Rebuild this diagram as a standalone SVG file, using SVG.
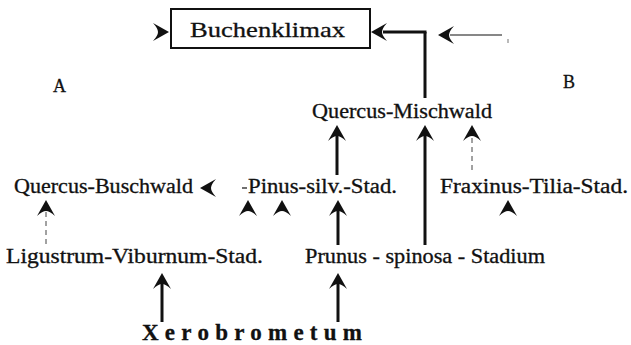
<svg xmlns="http://www.w3.org/2000/svg" width="631" height="345" viewBox="0 0 631 345">
<style>
text{font-family:'Liberation Serif','DejaVu Serif',serif;fill:#111;stroke:#111;stroke-width:0.3}
.t{font-size:20px}
.thick{stroke:#111;stroke-width:3;fill:none}
.thin{stroke:#111;stroke-width:1.2;fill:none}
.dash{stroke:#444;stroke-width:1;stroke-dasharray:5 4;fill:none}
.ah{fill:#111}
</style>
<defs>
<path id="ah" d="M0,0 L9,16 Q3.5,11 0,11 Q-3.5,11 -9,16 Z"/>
</defs>
<rect width="631" height="345" fill="#fff"/>
<g font-family="Liberation Serif, DejaVu Serif, serif">
<g id="buchenklimax">
<rect x="171" y="9" width="199" height="39" fill="none" stroke="#111" stroke-width="2"/>
<text x="190" y="37" font-size="22" textLength="155" lengthAdjust="spacingAndGlyphs">Buchenklimax</text>
</g>
<g id="labelA"><text x="53" y="92" font-size="18">A</text></g>
<g id="labelB"><text x="563" y="88" font-size="18">B</text></g>
<g id="quercus-mischwald"><text class="t" x="312" y="118" textLength="180" lengthAdjust="spacingAndGlyphs">Quercus-Mischwald</text></g>
<g id="quercus-buschwald"><text class="t" x="14" y="193" textLength="179" lengthAdjust="spacingAndGlyphs">Quercus-Buschwald</text></g>
<g id="pinus"><text class="t" x="248" y="193" textLength="149" lengthAdjust="spacingAndGlyphs">Pinus-silv.-Stad.</text></g>
<g id="fraxinus"><text class="t" x="440" y="193" textLength="188" lengthAdjust="spacingAndGlyphs">Fraxinus-Tilia-Stad.</text></g>
<g id="ligustrum"><text class="t" x="6" y="263" textLength="257" lengthAdjust="spacingAndGlyphs">Ligustrum-Viburnum-Stad.</text></g>
<g id="prunus"><text class="t" x="305" y="263" textLength="240" lengthAdjust="spacingAndGlyphs">Prunus - spinosa - Stadium</text></g>
<g id="xerobrometum"><text x="142" y="340" font-size="23" font-weight="bold" textLength="220" lengthAdjust="spacing">Xerobrometum</text></g>
</g>
<g id="connectors">
<line class="thick" x1="425" y1="32" x2="425" y2="98"/>
<line class="thick" x1="383" y1="32" x2="426.5" y2="32"/>
<use href="#ah" class="ah" transform="translate(371,32) rotate(-90)"/>
<use href="#ah" class="ah" transform="translate(169,32) rotate(90)"/>
<line class="thin" x1="450" y1="35" x2="502" y2="35"/>
<use href="#ah" class="ah" transform="translate(438,35) rotate(-90)"/>
<rect x="507.5" y="39" width="1" height="4" fill="#777"/>
<line class="thick" x1="337" y1="135" x2="337" y2="175"/>
<use href="#ah" class="ah" transform="translate(337,125)"/>
<line class="thick" x1="425" y1="135" x2="425" y2="245"/>
<use href="#ah" class="ah" transform="translate(425,125)"/>
<line class="dash" x1="472" y1="138" x2="472" y2="172"/>
<use href="#ah" class="ah" transform="translate(472,125)"/>
<use href="#ah" class="ah" transform="translate(200,188) rotate(-90)"/>
<line stroke="#111" stroke-width="1.2" x1="242" y1="188" x2="247" y2="188"/>
<line class="dash" x1="46" y1="212" x2="46" y2="246"/>
<use href="#ah" class="ah" transform="translate(46,200)"/>
<use href="#ah" class="ah" transform="translate(248,200)"/>
<use href="#ah" class="ah" transform="translate(282,200)"/>
<use href="#ah" class="ah" transform="translate(508,200)"/>
<line class="thick" x1="338" y1="210" x2="338" y2="245"/>
<use href="#ah" class="ah" transform="translate(338,200)"/>
<line class="thick" x1="162" y1="283" x2="162" y2="322"/>
<use href="#ah" class="ah" transform="translate(162,273)"/>
<line class="thick" x1="338" y1="283" x2="338" y2="322"/>
<use href="#ah" class="ah" transform="translate(338,273)"/>
</g>
</svg>
